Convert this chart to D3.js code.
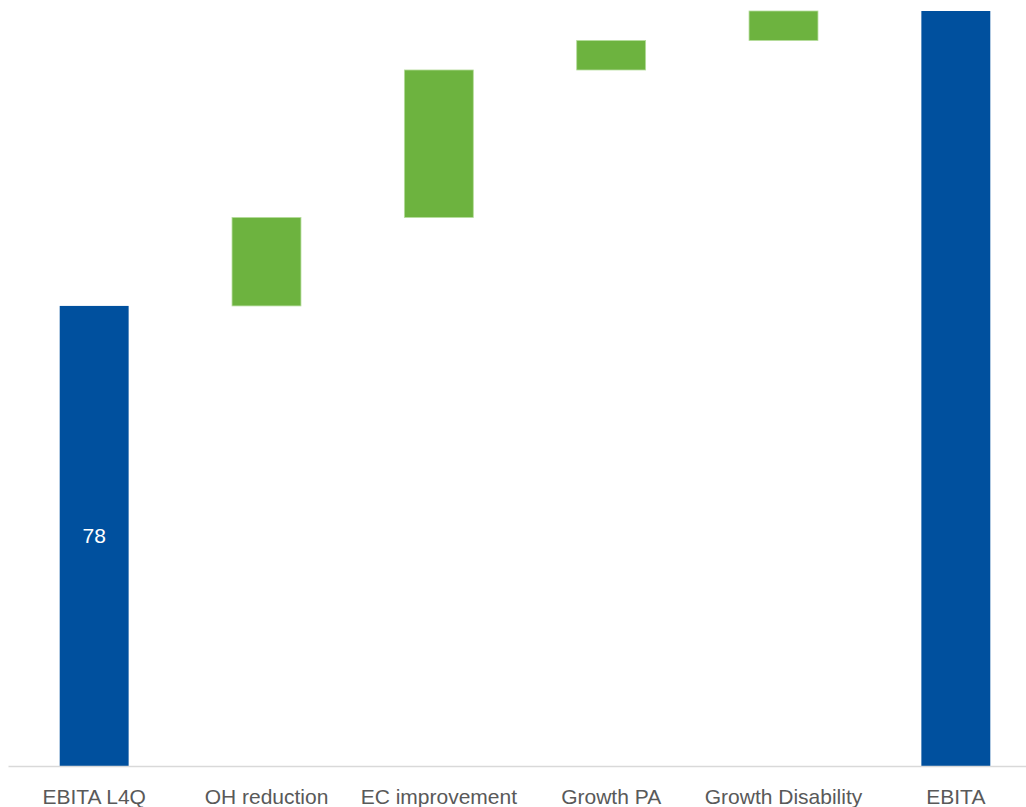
<!DOCTYPE html>
<html>
<head>
<meta charset="utf-8">
<script src="https://cdn.jsdelivr.net/npm/d3@7"></script>
<style>
  body{margin:0;background:#fff;}
  .axis text{font-family:"Liberation Sans",Arial,sans-serif;font-size:21px;fill:#595959;}
</style>
</head>
<body>
<div class="main"></div>
<script>
var categories=['EBITA L4Q','OH reduction','EC improvement','Growth PA','Growth Disability','EBITA'];
var values=[78,15,25,5,5,128];
var kinds=['total','delta','delta','delta','delta','total'];
var valueLabels=['78','','','','',''];

var width=1026, height=807;
var svg=d3.select('.main').append('svg')
          .attr('width',width)
          .attr('height',height);

// build waterfall steps
var running=0;
var rows=categories.map(function(c,i){
  var start,end;
  if(kinds[i]=='total'){start=0;end=values[i];running=values[i];}
  else{start=running;end=running+values[i];running=end;}
  return {cat:c,start:start,end:end,kind:kinds[i],label:valueLabels[i]};
});

var x=d3.scaleBand()
        .domain(categories)
        .range([8,1042])
        .paddingInner(0.6)
        .paddingOuter(0.3);
var y=d3.scaleLinear()
        .domain([0,d3.max(rows,function(d){return d.end;})])
        .range([766,11]);

svg.selectAll('.bar')
   .data(rows)
   .enter().append('rect')
   .attr('class','bar')
   .attr('x',function(d){return x(d.cat);})
   .attr('width',x.bandwidth())
   .attr('y',function(d){return y(d.end);})
   .attr('height',function(d){return y(d.start)-y(d.end);})
   .style('fill',function(d){return d.kind=='total'?'#00509E':'#6DB33F';})
   .style('stroke',function(d){return d.kind=='total'?'none':'#B5DC9B';})
   .style('stroke-width',0.8);

svg.selectAll('.val')
   .data(rows.filter(function(d){return d.label;}))
   .enter().append('text')
   .attr('class','val')
   .attr('x',function(d){return x(d.cat)+x.bandwidth()/2;})
   .attr('y',function(d){return y((d.start+d.end)/2);})
   .attr('dy','0.35em')
   .attr('text-anchor','middle')
   .style('font-family','"Liberation Sans",Arial,sans-serif')
   .style('font-size','21px')
   .style('fill','#fff')
   .text(function(d){return d.label;});

var xAxis=d3.axisBottom(x).tickSize(0).tickPadding(23);
var gx=svg.append('g')
   .attr('class','axis')
   .attr('transform','translate(0,766)')
   .call(xAxis);
gx.select('.domain').attr('stroke','#D9D9D9').attr('stroke-width',1.5);
</script>
</body>
</html>
